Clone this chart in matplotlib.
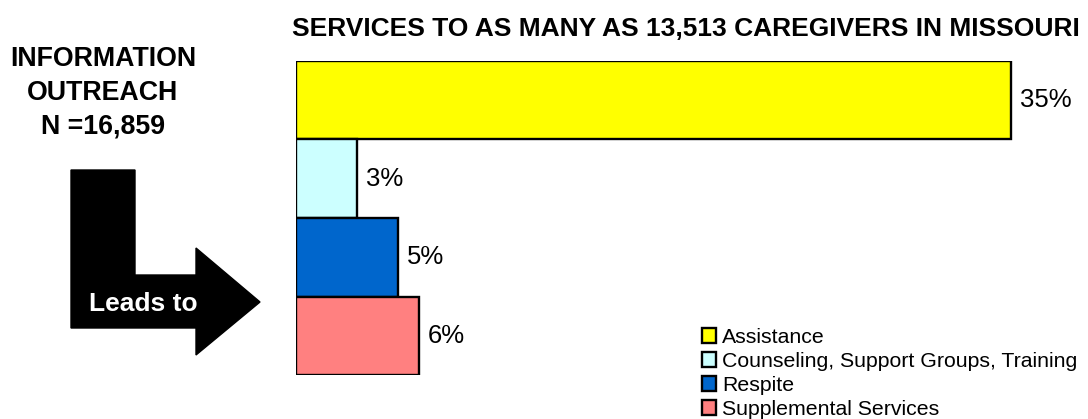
import matplotlib.pyplot as plt
from matplotlib.patches import Polygon

plt.rcParams['font.family'] = ['Liberation Sans', 'DejaVu Sans']

# service categories and share of caregivers served
categories = ['Assistance', 'Counseling, Support Groups, Training',
              'Respite', 'Supplemental Services']
shares = [35, 3, 5, 6]
colors = ['#FFFF00', '#CCFFFF', '#0066CC', '#FF8080']

W, H = 1088, 419
fig = plt.figure(figsize=(W / 100, H / 100), dpi=100)

# background layer in pixel units for the arrow and side text
bg = fig.add_axes([0, 0, 1, 1])
bg.set_xlim(0, W)
bg.set_ylim(H, 0)
bg.axis('off')

arrow = [(71, 170), (135, 170), (135, 275), (196, 275), (196, 248),
         (260, 302), (196, 355), (196, 328), (71, 328)]
bg.add_patch(Polygon(arrow, closed=True, facecolor='black', edgecolor='black'))
bg.text(143, 301, 'Leads to', color='white', fontsize=19, fontweight='bold',
        ha='center', va='center_baseline')
for y, line in zip([56, 90, 123], ['INFORMATION', 'OUTREACH', 'N =16,859']):
    bg.text(103, y, line, fontsize=19.3, fontweight='bold',
            ha='center', va='center_baseline')
bg.text(686, 26, 'SERVICES TO AS MANY AS 13,513 CAREGIVERS IN MISSOURI',
        fontsize=19, fontweight='bold', ha='center', va='center_baseline')

# bar chart
left, top, bottom = 296, 61, 375
px_per_unit = (1011 - left) / 35
ax = fig.add_axes([left / W, (H - bottom) / H, (W - left) / W, (bottom - top) / H])
ax.set_xlim(0, (W - left) / px_per_unit)
ax.set_ylim(3.5, -0.5)
ax.axis('off')

ax.barh(range(len(shares)), shares, height=1.0, color=colors,
        edgecolor='black', linewidth=1.7)
for i, v in enumerate(shares):
    ax.annotate(f'{v}%', (v, i), xytext=(6.5, 0), textcoords='offset points',
                ha='left', va='center', fontsize=18.5, annotation_clip=False)

handles = [plt.Rectangle((0, 0), 1, 1, facecolor=c, edgecolor='black', linewidth=1.7)
           for c in colors]
fig.legend(handles, categories, loc='upper left', bbox_to_anchor=(702 / W, 1 - 328 / H),
           frameon=False, fontsize=15.3, handlelength=0.65, handleheight=0.65,
           handletextpad=0.3, labelspacing=0.235, borderpad=0, borderaxespad=0)

fig.savefig('out.png', dpi=100)
